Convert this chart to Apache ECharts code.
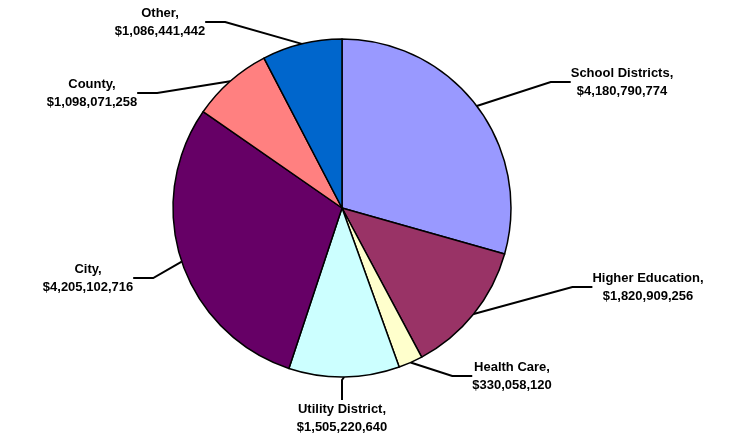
<!DOCTYPE html>
<html>
<head>
<meta charset="utf-8">
<script src="https://cdn.jsdelivr.net/npm/echarts@6/dist/echarts.min.js"></script>
<style>
  html, body { margin: 0; padding: 0; background: #fff; }
</style>
</head>
<body>
<div id="main" style="width: 736px; height: 444px;"></div>
<script>
// 数据
const categories = ['School Districts', 'Higher Education', 'Health Care', 'Utility District', 'City', 'County', 'Other'];
const values = [4180790774, 1820909256, 330058120, 1505220640, 4205102716, 1098071258, 1086441442];
const colors = ['#9999FF', '#993366', '#FFFFCC', '#CCFFFF', '#660066', '#FF8080', '#0066CC'];

// label anchor spots (px), same order as categories
const labelSpots = [[622, 82], [648, 287], [512, 376], [342, 418], [88, 278], [92, 93], [160, 22]];

function money(v) {
    return '$' + v.toLocaleString('en-US');
}

let myChart = echarts.init(document.getElementById('main'));

let option = {
    animation: false,
    series: [
        {
            type: 'pie',
            center: [342, 208],
            radius: 169,
            startAngle: 90,
            clockwise: true,
            itemStyle: {
                borderColor: '#000',
                borderWidth: 1.5
            },
            label: {
                show: true,
                position: 'outside',
                color: '#000',
                fontFamily: 'Liberation Sans, Arial, sans-serif',
                fontWeight: 'bold',
                fontSize: 13,
                lineHeight: 18,
                align: 'center',
                formatter: (p) => p.name + ',\n' + money(p.value)
            },
            labelLine: {
                show: true,
                length: 20,
                length2: 20,
                lineStyle: { color: '#000', width: 2 }
            },
            labelLayout: (params) => {
                let s = labelSpots[params.dataIndex];
                return { x: s[0], y: s[1], align: 'center', verticalAlign: 'middle' };
            },
            data: categories.map((c, i) => ({
                name: c,
                value: values[i],
                itemStyle: { color: colors[i] }
            }))
        }
    ]
};
myChart.setOption(option);
</script>
</body>
</html>
